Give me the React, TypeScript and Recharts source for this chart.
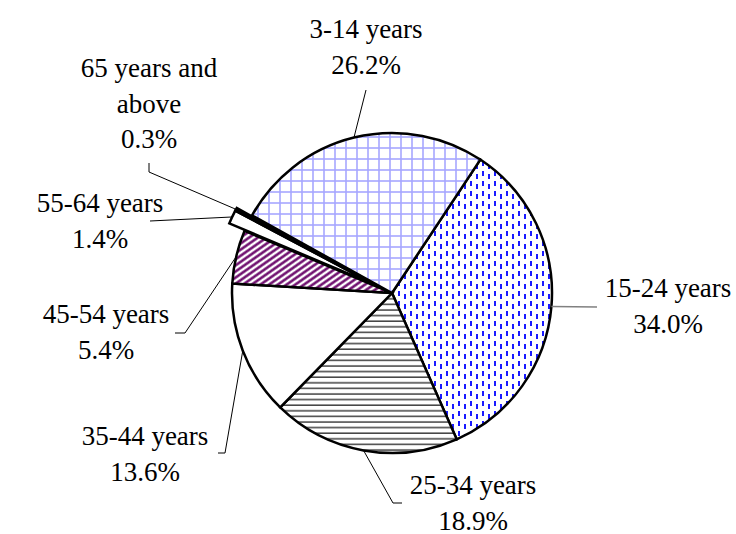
import { PieChart, Pie, Cell } from "recharts";

// age groups, clockwise from the top-right boundary
const categories = [
  "15-24 years",
  "25-34 years",
  "35-44 years",
  "45-54 years",
  "55-64 years",
  "65 years and\nabove",
  "3-14 years",
];
const shares = [34.0, 18.9, 13.6, 5.4, 1.4, 0.3, 26.2];
const exploded = [false, false, false, false, true, true, false];

const fills = [
  "url(#dashBlue)",
  "url(#hLines)",
  "#ffffff",
  "url(#diagPurple)",
  "#ffffff",
  "#000000",
  "url(#gridBlue)",
];

// label text anchor (centre x, first baseline) and leader path from label to slice
const labelLayout = [
  { x: 668, y: 297, path: [[597, 307]], color: "#808080", width: 1.5 },
  { x: 473, y: 494, path: [[402, 503], [393, 503]], color: "#000", width: 1 },
  { x: 145, y: 445, path: [[218, 453], [225, 453]], color: "#000", width: 1 },
  { x: 106, y: 323, path: [[175, 333], [185, 333]], color: "#000", width: 1 },
  { x: 100, y: 212, path: [[150, 221]], color: "#000", width: 1 },
  { x: 149, y: 77, path: [[149, 163], [149, 172]], color: "#000", width: 1 },
  { x: 366, y: 38, path: [[366, 90]], color: "#000", width: 1 },
];

const data = categories.map((name, i) => ({ name, value: shares[i] }));

const CX = 392;
const CY = 293;
const R = 160;
const START = 56.5;
const EXPLODE = 17;
const RAD = Math.PI / 180;
const FONT = "'Liberation Serif', 'Times New Roman', serif";

// direction of the exploded group (mid angle of the exploded slices)
const total = shares.reduce((a, b) => a + b, 0);
let acc = 0;
let explodeMid = 0;
shares.forEach((s, i) => {
  if (i === 4) explodeMid = START - ((acc + (s + shares[5]) / 2) / total) * 360;
  acc += s;
});
const dx = EXPLODE * Math.cos(explodeMid * RAD);
const dy = -EXPLODE * Math.sin(explodeMid * RAD);

function makeLabel(showExploded: boolean) {
  return (props: any) => {
    const { index, midAngle, cx, cy, outerRadius } = props;
    if (exploded[index] !== showExploded) return null;
    const ex = cx + outerRadius * Math.cos(-midAngle * RAD);
    const ey = cy + outerRadius * Math.sin(-midAngle * RAD);
    const lay = labelLayout[index];
    const pts = [...lay.path, [ex, ey]].map((p) => p.join(",")).join(" ");
    const lines = [...categories[index].split("\n"), shares[index].toFixed(1) + "%"];
    return (
      <g key={"lab" + index}>
        <polyline points={pts} fill="none" stroke={lay.color} strokeWidth={lay.width} />
        <text
          x={lay.x}
          y={lay.y}
          textAnchor="middle"
          style={{ fontFamily: FONT, fontSize: 27 }}
          fill="#000"
        >
          {lines.map((t, j) => (
            <tspan key={j} x={lay.x} y={lay.y + j * 35.5}>
              {t}
            </tspan>
          ))}
        </text>
      </g>
    );
  };
}

export default function App() {
  return (
    <div style={{ position: "absolute", left: 0, top: 0, background: "#fff" }}>
      <PieChart width={736} height={534} margin={{ top: 0, right: 0, bottom: 0, left: 0 }}>
        <defs>
          <pattern id="gridBlue" patternUnits="userSpaceOnUse" width={11} height={11}>
            <rect width={11} height={11} fill="#fff" />
            <line x1={0} y1={5} x2={11} y2={5} stroke="#a6a6ff" strokeWidth={1.6} />
            <line x1={5} y1={0} x2={5} y2={11} stroke="#a6a6ff" strokeWidth={1.6} />
          </pattern>
          <pattern id="dashBlue" patternUnits="userSpaceOnUse" width={12} height={10}>
            <rect width={12} height={10} fill="#fff" />
            <rect x={2} y={1} width={2} height={5} fill="#1a1aff" />
            <rect x={8} y={4} width={2} height={5} fill="#1a1aff" />
          </pattern>
          <pattern id="hLines" patternUnits="userSpaceOnUse" width={10} height={5.6}>
            <rect width={10} height={5.6} fill="#fff" />
            <line x1={0} y1={2} x2={10} y2={2} stroke="#222" strokeWidth={1.3} />
          </pattern>
          <pattern
            id="diagPurple"
            patternUnits="userSpaceOnUse"
            width={10}
            height={5}
            patternTransform="rotate(-35)"
          >
            <rect width={10} height={5} fill="#fff" />
            <line x1={0} y1={2.5} x2={10} y2={2.5} stroke="#660066" strokeWidth={2.4} />
          </pattern>
        </defs>
        <Pie
          data={data}
          dataKey="value"
          cx={CX}
          cy={CY}
          outerRadius={R}
          startAngle={START}
          endAngle={START - 360}
          stroke="#000"
          strokeWidth={2.5}
          label={makeLabel(false)}
          labelLine={false}
          isAnimationActive={false}
        >
          {data.map((d, i) => (
            <Cell
              key={d.name}
              fill={exploded[i] ? "none" : fills[i]}
              stroke={exploded[i] ? "none" : "#000"}
            />
          ))}
        </Pie>
        <Pie
          data={data}
          dataKey="value"
          cx={CX + dx}
          cy={CY + dy}
          outerRadius={R}
          startAngle={START}
          endAngle={START - 360}
          stroke="#000"
          strokeWidth={2.5}
          label={makeLabel(true)}
          labelLine={false}
          isAnimationActive={false}
        >
          {data.map((d, i) => (
            <Cell
              key={d.name}
              fill={exploded[i] ? fills[i] : "none"}
              stroke={exploded[i] ? "#000" : "none"}
            />
          ))}
        </Pie>
      </PieChart>
    </div>
  );
}
